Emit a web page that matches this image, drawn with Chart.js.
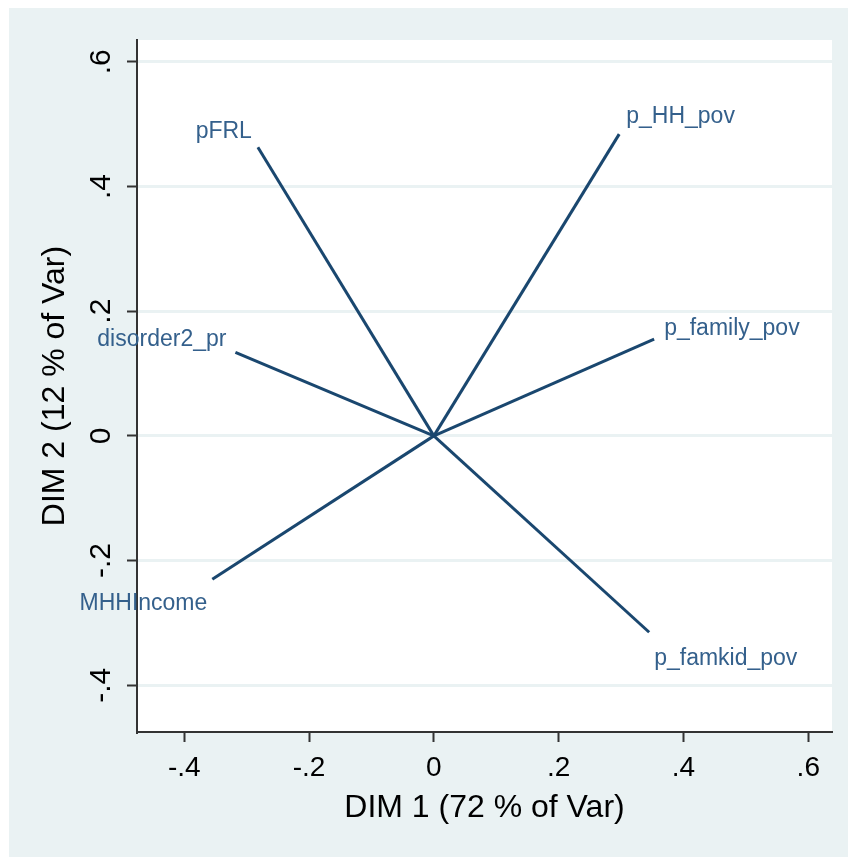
<!DOCTYPE html>
<html><head><meta charset="utf-8">
<script src="https://cdn.jsdelivr.net/npm/chart.js@4.4.1/dist/chart.umd.min.js"></script>
<style>html,body{margin:0;padding:0;background:#fff;} canvas{display:block;}</style>
</head><body>
<canvas id="c" width="848" height="857"></canvas>
<script>
// ---- data ----
const variables = ['pFRL', 'p_HH_pov', 'p_family_pov', 'disorder2_pr', 'MHHIncome', 'p_famkid_pov'];
const dim1 = [-0.282, 0.297, 0.353, -0.318, -0.355, 0.345];
const dim2 = [0.463, 0.484, 0.155, 0.134, -0.230, -0.315];
const xTicks = [-0.4, -0.2, 0, 0.2, 0.4, 0.6];
const xTickLabels = ['-.4', '-.2', '0', '.2', '.4', '.6'];
const yTicks = [-0.4, -0.2, 0, 0.2, 0.4, 0.6];
const yTickLabels = ['-.4', '-.2', '0', '.2', '.4', '.6'];
const xTitle = 'DIM 1 (72 % of Var)';
const yTitle = 'DIM 2 (12 % of Var)';

// ---- styling ----
const FONT = '"Liberation Sans", Arial, sans-serif';
const LINE_COLOR = '#1a476f';
const LABEL_COLOR = '#34608c';
const BG = '#eaf2f3';
const labelPlacement = [
  {align: 'right', dx: -6, dy: -9},
  {align: 'left', dx: 7, dy: -11},
  {align: 'left', dx: 10, dy: -4},
  {align: 'right', dx: -9, dy: -6},
  {align: 'right', dx: -5, dy: 31},
  {align: 'left', dx: 5, dy: 33}
];

const datasets = variables.map((name, i) => ({
  label: name,
  data: [{x: 0, y: 0}, {x: dim1[i], y: dim2[i]}],
  showLine: true,
  borderColor: LINE_COLOR,
  borderWidth: 3,
  pointRadius: 0,
  pointHoverRadius: 0,
  fill: false
}));

const bgPlugin = {
  id: 'bg',
  beforeDraw(chart) {
    const ctx = chart.ctx, a = chart.chartArea;
    ctx.save();
    ctx.fillStyle = '#ffffff';
    ctx.fillRect(0, 0, chart.width, chart.height);
    ctx.fillStyle = BG;
    ctx.fillRect(9, 8, chart.width - 9, chart.height - 8);
    ctx.fillStyle = '#ffffff';
    ctx.fillRect(a.left, a.top, a.right - a.left, a.bottom - a.top);
    ctx.restore();
  }
};

const labelPlugin = {
  id: 'varLabels',
  afterDatasetsDraw(chart) {
    const ctx = chart.ctx;
    const xs = chart.scales.x, ys = chart.scales.y;
    ctx.save();
    ctx.font = '23px ' + FONT;
    ctx.fillStyle = LABEL_COLOR;
    ctx.textBaseline = 'alphabetic';
    variables.forEach((name, i) => {
      const p = labelPlacement[i];
      const px = xs.getPixelForValue(dim1[i]);
      const py = ys.getPixelForValue(dim2[i]);
      ctx.textAlign = p.align;
      ctx.fillText(name, px + p.dx, py + p.dy);
    });
    ctx.restore();
  }
};

new Chart(document.getElementById('c'), {
  type: 'scatter',
  data: {datasets},
  plugins: [bgPlugin, labelPlugin],
  options: {
    responsive: false,
    animation: false,
    devicePixelRatio: 1,
    layout: {padding: {left: 0, top: 40, right: 16, bottom: 0}},
    plugins: {legend: {display: false}, tooltip: {enabled: false}},
    events: [],
    scales: {
      x: {
        type: 'linear',
        min: -0.4757,
        max: 0.638,
        afterBuildTicks: s => { s.ticks = xTicks.map(v => ({value: v})); },
        afterFit: s => { s.height = 125; },
        grid: {drawOnChartArea: false, drawTicks: true, tickLength: 10, tickColor: '#333', tickWidth: 2},
        border: {display: true, color: '#333', width: 2},
        ticks: {
          autoSkip: false, maxRotation: 0, minRotation: 0, padding: 9,
          color: '#000', font: {family: FONT, size: 28},
          callback: (v, i) => xTickLabels[i]
        },
        title: {display: true, text: xTitle, color: '#000', font: {family: FONT, size: 32}, padding: {top: 0, bottom: 30}}
      },
      y: {
        type: 'linear',
        min: -0.475,
        max: 0.635,
        afterBuildTicks: s => { s.ticks = yTicks.map(v => ({value: v})); },
        afterFit: s => { s.width = 137; },
        grid: {drawOnChartArea: true, color: BG, lineWidth: 3, drawTicks: true, tickLength: 10, tickColor: '#333', tickWidth: 2},
        border: {display: true, color: '#333', width: 2},
        ticks: {
          autoSkip: false, minRotation: 90, maxRotation: 90, crossAlign: 'center', padding: 8,
          color: '#000', font: {family: FONT, size: 30},
          callback: (v, i) => yTickLabels[i]
        },
        title: {display: true, text: yTitle, color: '#000', font: {family: FONT, size: 32}, padding: {top: 36, bottom: 0}}
      }
    }
  }
});
</script>
</body></html>
